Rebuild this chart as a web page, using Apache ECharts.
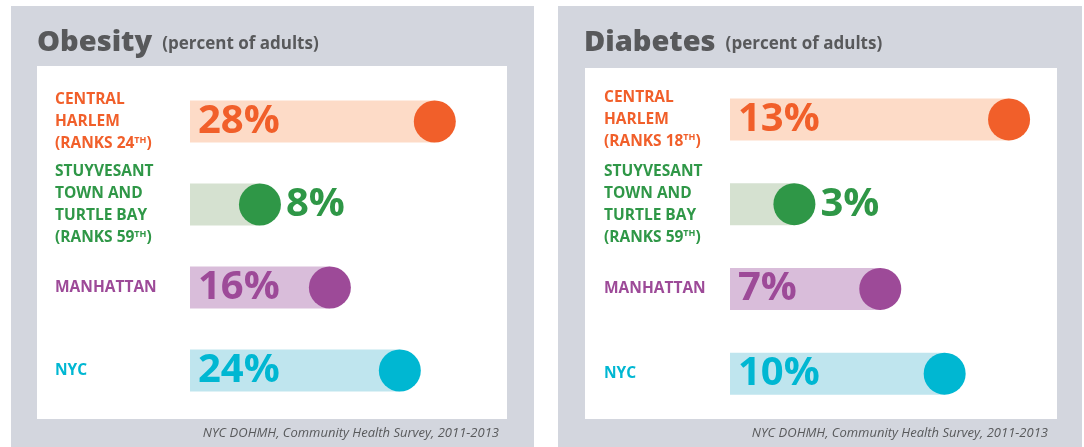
<!DOCTYPE html>
<html>
<head>
<meta charset="utf-8">
<script src="https://cdn.jsdelivr.net/npm/echarts@6/dist/echarts.min.js"></script>
<style>
  html, body { margin: 0; padding: 0; background: #fff; }
  #chart { width: 1084px; height: 447px; }
</style>
</head>
<body>
<div id="chart"></div>
<script>
// areas, top to bottom
const areas = ['Central Harlem', 'Stuyvesant Town and Turtle Bay', 'Manhattan', 'NYC']
const areaLines = [['CENTRAL', 'HARLEM'], ['STUYVESANT', 'TOWN AND', 'TURTLE BAY'], ['MANHATTAN'], ['NYC']]
const obesityRanks = ['24', '59', null, null]
const diabetesRanks = ['18', '59', null, null]

// percent of adults
const obesity = [28, 8, 16, 24]
const diabetes = [13, 3, 7, 10]

const source = 'NYC DOHMH, Community Health Survey, 2011-2013'

const darkColors = ['#f15f2a', '#2f9747', '#9d4a98', '#00b7d2']
const lightColors = ['#fddbc7', '#d5e1d0', '#d9bdda', '#bfe5ee']
const panelGrey = '#d3d6de'
const textGrey = '#58595b'
const font = '"Open Sans", sans-serif'

const chart = echarts.init(document.getElementById('chart'))

// rich styles for the area labels (one per colour + superscript)
const labelRich = {}
darkColors.forEach((c, i) => {
	labelRich['c' + i] = { color: c, fontSize: 15.5, fontWeight: 700, fontFamily: font, lineHeight: 22 }
	labelRich['s' + i] = { color: c, fontSize: 9, fontWeight: 700, fontFamily: font, verticalAlign: 'top', padding: [3, 0, 0, 0] }
})

function areaLabel(ranks) {
	return (value, idx) => {
		const lines = areaLines[idx].map(l => '{c' + idx + '|' + l + '}')
		if (ranks[idx]) {
			lines.push('{c' + idx + '|(RANKS ' + ranks[idx] + '}{s' + idx + '|TH}{c' + idx + '|)}')
		}
		return lines.join('\n')
	}
}

function pct(p) {
	const v = Array.isArray(p.value) ? p.value[0] : p.value
	return v + '%'
}

// one small chart per grid, gi = grid index
function buildPanel(gi, values, pxPerUnit) {
	const valueLabel = {
		formatter: pct,
		fontSize: 40,
		fontWeight: 700,
		fontFamily: font
	}
	const bars = values.map((v, i) => {
		const inside = v * pxPerUnit > 100	// short bars get the number beside the dot
		return {
			value: v,
			itemStyle: { color: lightColors[i] },
			label: Object.assign({}, valueLabel, { show: inside, position: 'insideLeft', distance: 8, color: darkColors[i] })
		}
	})
	const dots = values.map((v, i) => {
		const inside = v * pxPerUnit > 100
		return {
			value: [v, i],
			itemStyle: { color: darkColors[i], opacity: 1 },
			label: Object.assign({}, valueLabel, { show: !inside, position: 'right', distance: 5, color: darkColors[i] })
		}
	})
	return [{
		type: 'bar',
		xAxisIndex: gi,
		yAxisIndex: gi,
		barWidth: 42,
		data: bars,
		z: 2,
		silent: true
	}, {
		type: 'scatter',
		xAxisIndex: gi,
		yAxisIndex: gi,
		symbolSize: 42,
		data: dots,
		z: 3,
		silent: true
	}]
}

const grids = [
	{ left: 190, top: 80, width: 306, height: 332 },
	{ left: 730, top: 77, width: 322, height: 339 }
]
const axisMax = [35, 15]
const scales = [grids[0].width / axisMax[0], grids[1].width / axisMax[1]]
const ranksList = [obesityRanks, diabetesRanks]
const labelMargin = [135, 126]

const titleRich = {
	a: { fontSize: 29, fontWeight: 800, color: textGrey, fontFamily: font, verticalAlign: 'bottom', lineHeight: 38 },
	b: { fontSize: 17, fontWeight: 700, color: textGrey, fontFamily: font, verticalAlign: 'bottom', padding: [0, 0, 4, 5] }
}

chart.setOption({
	backgroundColor: '#fff',
	animation: false,
	title: [{
		text: '{a|Obesity} {b|(percent of adults)}',
		left: 32,
		top: 14,
		textStyle: { rich: titleRich }
	}, {
		text: '{a|Diabetes} {b|(percent of adults)}',
		left: 579,
		top: 14,
		textStyle: { rich: titleRich }
	}],
	graphic: [
		{ type: 'rect', shape: { x: 11, y: 6, width: 523, height: 441 }, style: { fill: panelGrey }, z: -2 },
		{ type: 'rect', shape: { x: 558, y: 6, width: 524, height: 441 }, style: { fill: panelGrey }, z: -2 },
		{ type: 'rect', shape: { x: 37, y: 66, width: 470, height: 353 }, style: { fill: '#fff' }, z: -1 },
		{ type: 'rect', shape: { x: 585, y: 68, width: 472, height: 351 }, style: { fill: '#fff' }, z: -1 },
		{
			type: 'text', right: 1084 - 499, top: 427,
			style: { text: source, font: 'italic 13px "Open Sans", sans-serif', fill: textGrey }
		},
		{
			type: 'text', right: 1084 - 1048, top: 427,
			style: { text: source, font: 'italic 13px "Open Sans", sans-serif', fill: textGrey }
		}
	],
	grid: grids,
	xAxis: [0, 1].map(gi => ({
		type: 'value',
		gridIndex: gi,
		min: 0,
		max: axisMax[gi],
		show: false
	})),
	yAxis: [0, 1].map(gi => ({
		type: 'category',
		gridIndex: gi,
		data: areas,
		inverse: true,
		axisLine: { show: false },
		axisTick: { show: false },
		splitLine: { show: false },
		axisLabel: {
			align: 'left',
			margin: labelMargin[gi],
			formatter: areaLabel(ranksList[gi]),
			rich: labelRich
		}
	})),
	series: [
		...buildPanel(0, obesity, scales[0]),
		...buildPanel(1, diabetes, scales[1])
	]
})
</script>
</body>
</html>
